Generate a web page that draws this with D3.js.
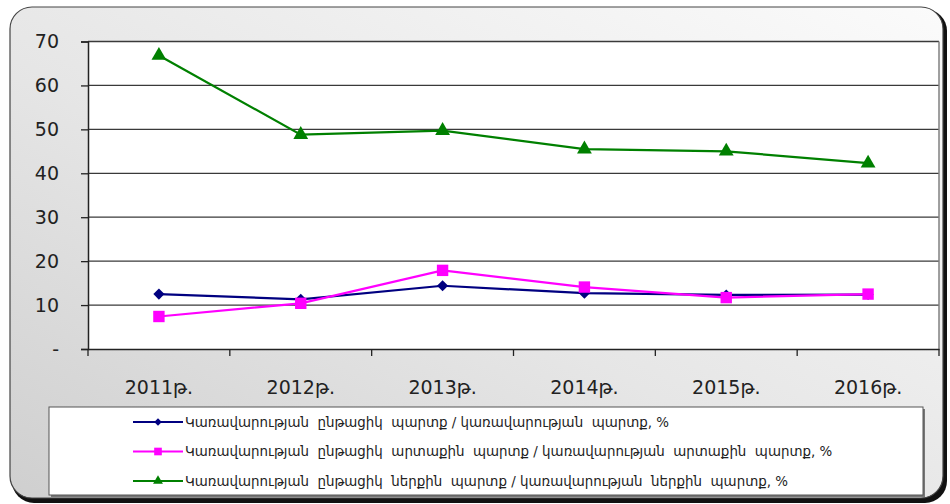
<!DOCTYPE html>
<html>
<head>
<meta charset="utf-8">
<script src="https://cdn.jsdelivr.net/npm/d3@7"></script>
<style>
  body { margin: 0; background: #fff; }
  svg { display: block; font-family: "DejaVu Sans", sans-serif; }
</style>
</head>
<body>
<div id="viz"></div>
<script>
var years = ["2011թ.", "2012թ.", "2013թ.", "2014թ.", "2015թ.", "2016թ."];
var totalDebt = [12.5, 11.3, 14.4, 12.7, 12.3, 12.4];
var externalDebt = [7.4, 10.4, 17.9, 14.1, 11.7, 12.5];
var domesticDebt = [66.8, 48.8, 49.7, 45.5, 45.0, 42.3];
var yTicks = [0, 10, 20, 30, 40, 50, 60, 70];
var seriesNames = [
  "Կառավարության  ընթացիկ  պարտք / կառավարության  պարտք, %",
  "Կառավարության  ընթացիկ  արտաքին  պարտք / կառավարության  արտաքին  պարտք, %",
  "Կառավարության  ընթացիկ  ներքին  պարտք / կառավարության  ներքին  պարտք, %"
];

var W = 950, H = 504;
var margin = {top: 41.5, left: 88, right: 11, bottom: 155};
var width = W - margin.left - margin.right,
    height = H - margin.top - margin.bottom;

var svg = d3.select("#viz").append("svg")
    .attr("width", W)
    .attr("height", H);

var defs = svg.append("defs");
var grad = defs.append("linearGradient").attr("id", "bg")
    .attr("x1", "1").attr("y1", "0").attr("x2", "0").attr("y2", "1");
grad.append("stop").attr("offset", "0").attr("stop-color", "#fbfbfb");
grad.append("stop").attr("offset", "0.55").attr("stop-color", "#e6e6e6");
grad.append("stop").attr("offset", "1").attr("stop-color", "#cfcfcf");

// outer frame with shadow
svg.append("rect")
    .attr("x", 12).attr("y", 9).attr("width", 935).attr("height", 494)
    .attr("rx", 22).attr("fill", "#111");
svg.append("rect")
    .attr("x", 10).attr("y", 7).attr("width", 933).attr("height", 491)
    .attr("rx", 22).attr("fill", "url(#bg)")
    .attr("stroke", "#444").attr("stroke-width", 1.2);

var g = svg.append("g")
    .attr("transform", "translate(" + margin.left + "," + margin.top + ")");

var x = d3.scaleBand().domain(years).range([0, width]);
var y = d3.scaleLinear().domain([0, 70]).range([height, 0]);

g.append("rect")
    .attr("width", width).attr("height", height)
    .attr("fill", "#fff");

// gridlines
g.selectAll(".grid").data(yTicks.slice(1))
  .enter().append("line")
    .attr("x1", 0).attr("x2", width)
    .attr("y1", function(d) { return y(d); })
    .attr("y2", function(d) { return y(d); })
    .attr("stroke", "#3a3a3a").attr("stroke-width", 1.3);

g.append("line")
    .attr("x1", width).attr("x2", width)
    .attr("y1", 0).attr("y2", height)
    .attr("stroke", "#808080").attr("stroke-width", 1.5);

// y axis
var yAxis = g.append("g")
    .call(d3.axisLeft(y).tickValues(yTicks).tickSize(7).tickPadding(22)
      .tickFormat(function(d) { return d === 0 ? "-" : d; }));
yAxis.select(".domain").attr("stroke", "#222").attr("stroke-width", 1.5);
yAxis.selectAll(".tick line").attr("stroke", "#222").attr("stroke-width", 1.3);
yAxis.selectAll("text").attr("font-size", 19).attr("fill", "#222")
    .attr("font-family", "DejaVu Sans");

// x axis
var xAxis = g.append("g")
    .attr("transform", "translate(0," + height + ")")
    .call(d3.axisBottom(x).tickSize(0).tickPadding(32));
xAxis.select(".domain").attr("stroke", "#222").attr("stroke-width", 1.5);
xAxis.selectAll("text").attr("font-size", 19).attr("fill", "#222")
    .attr("font-family", "DejaVu Sans");
xAxis.selectAll(".sep").data(d3.range(years.length + 1))
  .enter().append("line")
    .attr("x1", function(i) { return i * x.step(); })
    .attr("x2", function(i) { return i * x.step(); })
    .attr("y1", 0).attr("y2", 7)
    .attr("stroke", "#222").attr("stroke-width", 1.3);

var series = [
  {values: totalDebt, color: "#000080", marker: d3.symbolSquare, rot: 45, size: 62},
  {values: externalDebt, color: "#ff00ff", marker: d3.symbolSquare, rot: 0, size: 130},
  {values: domesticDebt, color: "#008000", marker: d3.symbolTriangle, rot: 0, size: 95}
];

var line = d3.line()
    .x(function(d, i) { return x(years[i]) + x.bandwidth() / 2; })
    .y(function(d) { return y(d); });

series.forEach(function(s) {
  g.append("path")
      .datum(s.values)
      .attr("d", line)
      .attr("fill", "none")
      .attr("stroke", s.color)
      .attr("stroke-width", 2.2);
  g.selectAll(null).data(s.values)
    .enter().append("path")
      .attr("d", d3.symbol().type(s.marker).size(s.size))
      .attr("transform", function(d, i) {
        return "translate(" + (x(years[i]) + x.bandwidth() / 2) + "," + y(d) + ") rotate(" + s.rot + ")";
      })
      .attr("fill", s.color);
});

// legend
var leg = svg.append("g").attr("transform", "translate(49,407)");
leg.append("rect")
    .attr("x", 2).attr("y", 2).attr("width", 874).attr("height", 88)
    .attr("fill", "#777");
leg.append("rect")
    .attr("width", 874).attr("height", 88)
    .attr("fill", "#fff").attr("stroke", "#555").attr("stroke-width", 1);

series.forEach(function(s, i) {
  var row = leg.append("g").attr("transform", "translate(0," + (15 + i * 29.5) + ")");
  row.append("line")
      .attr("x1", 84).attr("x2", 134)
      .attr("stroke", s.color).attr("stroke-width", 2.2);
  row.append("path")
      .attr("d", d3.symbol().type(s.marker).size(s.size * 0.45))
      .attr("transform", "translate(109,0) rotate(" + s.rot + ")")
      .attr("fill", s.color);
  row.append("text")
      .attr("x", 136).attr("y", 4.5)
      .attr("font-size", 13.4)
      .attr("fill", "#222")
      .style("white-space", "pre")
      .text(seriesNames[i]);
});
</script>
</body>
</html>
